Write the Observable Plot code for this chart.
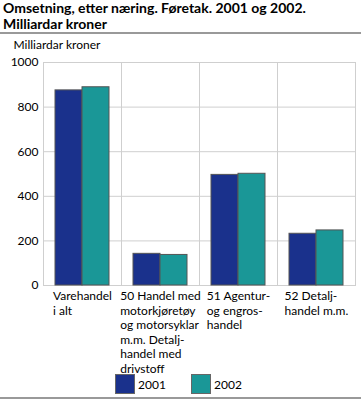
<!DOCTYPE html>
<html><head><meta charset="utf-8">
<script src="https://cdn.jsdelivr.net/npm/d3@7"></script>
<script src="https://cdn.jsdelivr.net/npm/@observablehq/plot@0.6"></script>
<style>
body{margin:0;background:#fff;font-family:Lato,sans-serif;color:#000;}
#wrap{width:361px;position:relative;}
.title{font-weight:bold;font-size:14px;line-height:16px;padding:0 0 0 3px;height:31px;}
.rule{border-top:2px solid #999;margin-top:1px;}
#chart svg{display:block;}
#legend{position:relative;height:20px;margin-top:1px;font-size:12px;}
.item{position:absolute;top:0;display:flex;align-items:center;height:20px;}
.sw{width:20px;height:20px;border:1px solid #666;box-sizing:border-box;margin-right:3px;}
.bottom{border-top:2px solid #999;margin-top:3px;}
</style></head>
<body><div id="wrap">
<div class="title">Omsetning, etter næring. Føretak. 2001 og 2002.<br>Milliardar kroner</div>
<div class="rule"></div>
<div id="chart"></div>
<div id="legend"></div>
<div class="bottom"></div>
</div>
<script>
const categories = ["Varehandel\ni alt", "50 Handel med\nmotorkjøretøy\nog motorsyklar\nm.m. Detalj-\nhandel med\ndrivstoff", "51 Agentur-\nog engros-\nhandel", "52 Detalj-\nhandel m.m."];
const years = ["2001", "2002"];
const values2001 = [875, 142, 496, 232];
const values2002 = [889, 137, 501, 247];
const yTicks = [0, 200, 400, 600, 800, 1000];
const colors = ["#1a318c", "#1a9797"];
const yLabel = "Milliardar kroner";

const data = categories.flatMap((c, i) => [
  {cat: c, year: years[0], value: values2001[i]},
  {cat: c, year: years[1], value: values2002[i]}
]);

const chart = Plot.plot({
  width: 361, height: 339,
  marginLeft: 42, marginRight: 6, marginTop: 28, marginBottom: 88,
  style: {fontFamily: "Lato", fontSize: "12px", color: "#000", background: "#fff", overflow: "visible"},
  fx: {domain: categories, padding: 0, label: null},
  x: {domain: years, paddingInner: 0, paddingOuter: 0.42, axis: null},
  y: {domain: [0, 1000]},
  color: {domain: years, range: colors},
  marks: [
    Plot.gridY(yTicks, {stroke: "#cfcfcf", strokeOpacity: 1}),
    Plot.frame({stroke: "#cfcfcf"}),
    Plot.barY(data, {fx: "cat", x: "year", y: "value", fill: "year", stroke: "#555", strokeWidth: 1}),
    Plot.axisY(yTicks, {tickSize: 0, tickPadding: 5, tickFormat: d3.format("d"), label: yLabel, labelAnchor: "top", labelArrow: "none", labelOffset: 30, fontSize: 12}),
    Plot.axisFx({anchor: "bottom", tickSize: 0, tickPadding: 4, lineHeight: 1.22, label: null, fontSize: 12})
  ]
});
document.getElementById("chart").append(chart);

// nudge the y-axis title down slightly (keep Plot's own transform)
const yl = d3.select(chart).select('g[aria-label="y-axis label"]');
if (!yl.empty()) yl.attr("transform", ((yl.attr("transform") || "") + " translate(0,3)").trim());

// left-align lines within each centered multi-line tick label
d3.select(chart).selectAll('g[aria-label="fx-axis tick label"] text').each(function() {
  const w = this.getBBox().width;
  d3.select(this).attr("text-anchor", "start");
  const tspans = d3.select(this).selectAll("tspan");
  if (tspans.empty()) d3.select(this).attr("x", -w / 2);
  else tspans.attr("x", -w / 2);
});

const legend = d3.select("#legend");
const legendX = [115, 191];
years.forEach((y, i) => {
  const it = legend.append("div").attr("class", "item").style("left", legendX[i] + "px");
  it.append("div").attr("class", "sw").style("background", colors[i]);
  it.append("span").text(y);
});
</script>
</body></html>
